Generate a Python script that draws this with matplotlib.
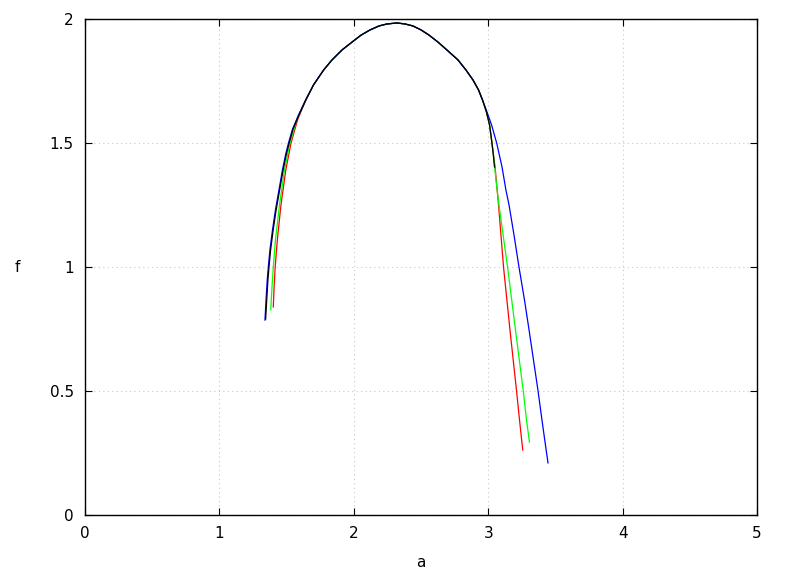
import matplotlib
matplotlib.use("Agg")
import matplotlib.pyplot as plt

# values; the upper arc is shared by all four curves
a_top = [1.700, 1.775, 1.838, 1.912, 1.987, 2.054, 2.121, 2.188, 2.247, 2.321,
         2.381, 2.440, 2.500, 2.560, 2.626, 2.693, 2.775, 2.835, 2.887, 2.928]
f_top = [1.734, 1.794, 1.835, 1.875, 1.907, 1.935, 1.956, 1.972, 1.980, 1.984,
         1.980, 1.972, 1.956, 1.935, 1.907, 1.875, 1.835, 1.794, 1.754, 1.714]

# red
a_red_left = [1.401, 1.406, 1.415, 1.431, 1.458, 1.494, 1.533, 1.583, 1.643]
f_red_left = [0.839, 0.907, 1.000, 1.109, 1.250, 1.391, 1.500, 1.596, 1.673]
a_red_right = [2.958, 2.987, 3.010, 3.028, 3.051, 3.077, 3.114, 3.162, 3.211, 3.233, 3.257]
f_red_right = [1.673, 1.625, 1.573, 1.500, 1.403, 1.250, 1.000, 0.746, 0.500, 0.383, 0.262]

# green
a_green_left = [1.382, 1.390, 1.401, 1.417, 1.447, 1.484, 1.525, 1.577, 1.641]
f_green_left = [0.827, 0.907, 1.000, 1.109, 1.250, 1.391, 1.500, 1.596, 1.673]
a_green_right = [2.958, 2.987, 3.010, 3.028, 3.039, 3.058, 3.080, 3.144, 3.203, 3.261, 3.285, 3.307]
f_green_right = [1.673, 1.625, 1.573, 1.500, 1.452, 1.351, 1.250, 1.000, 0.746, 0.500, 0.383, 0.294]

# blue
a_blue_left = [1.339, 1.347, 1.356, 1.364, 1.376, 1.395, 1.417, 1.443, 1.469, 1.492,
               1.514, 1.544, 1.589, 1.641]
f_blue_left = [0.786, 0.867, 0.948, 1.000, 1.069, 1.149, 1.230, 1.310, 1.391, 1.452,
               1.500, 1.556, 1.613, 1.673]
a_blue_right = [2.958, 2.991, 3.025, 3.063, 3.103, 3.132, 3.155, 3.192, 3.229, 3.270,
                3.304, 3.337, 3.371, 3.400, 3.426, 3.445]
f_blue_right = [1.673, 1.625, 1.573, 1.500, 1.403, 1.310, 1.250, 1.129, 1.000, 0.867,
                0.746, 0.625, 0.500, 0.383, 0.282, 0.210]

# black
a_black_left = [1.344, 1.352, 1.361, 1.369, 1.381, 1.400, 1.422, 1.448, 1.474, 1.497,
                1.519, 1.548, 1.592, 1.643]
f_black_left = [0.790, 0.867, 0.948, 1.000, 1.069, 1.149, 1.230, 1.310, 1.391, 1.452,
                1.500, 1.556, 1.613, 1.673]
a_black_right = [2.958, 2.987, 3.010, 3.028, 3.038, 3.047]
f_black_right = [1.673, 1.625, 1.573, 1.500, 1.452, 1.403]

x_ticks = [0, 1, 2, 3, 4, 5]
y_ticks = [0, 0.5, 1, 1.5, 2]
y_tick_labels = ["0", "0.5", "1", "1.5", "2"]

plt.rcParams['font.family'] = ['DejaVu Sans']

fig = plt.figure(figsize=(7.88, 5.76), dpi=100)
ax = fig.add_axes([85 / 788, 61 / 576, 672 / 788, 496 / 576])

curves = [
    (a_red_left, f_red_left, a_red_right, f_red_right, '#ff0000'),
    (a_green_left, f_green_left, a_green_right, f_green_right, '#00ff00'),
    (a_blue_left, f_blue_left, a_blue_right, f_blue_right, '#0000ff'),
    (a_black_left, f_black_left, a_black_right, f_black_right, 'black'),
]
for al, fl, ar, fr, col in curves:
    ax.plot(al + a_top + ar, fl + f_top + fr, color=col, lw=0.9)

ax.set_xlim(0, 5)
ax.set_ylim(0, 2)
ax.set_xticks(x_ticks)
ax.set_yticks(y_ticks)
ax.set_yticklabels(y_tick_labels)
ax.tick_params(direction='in', top=True, right=True, length=5, width=0.8,
               labelsize=11, pad=8)
ax.grid(True, color='#c8c8c8', ls=(0, (1, 3)), lw=0.8)
for s in ax.spines.values():
    s.set_linewidth(1.0)

ax.set_xlabel("a", fontsize=11, va='center')
ax.xaxis.set_label_coords(0.5, -0.095)
ax.set_ylabel("f", fontsize=11, rotation=0, va='center', ha='center')
ax.yaxis.set_label_coords(-0.1, 0.5)

fig.savefig("out.png", dpi=100)
